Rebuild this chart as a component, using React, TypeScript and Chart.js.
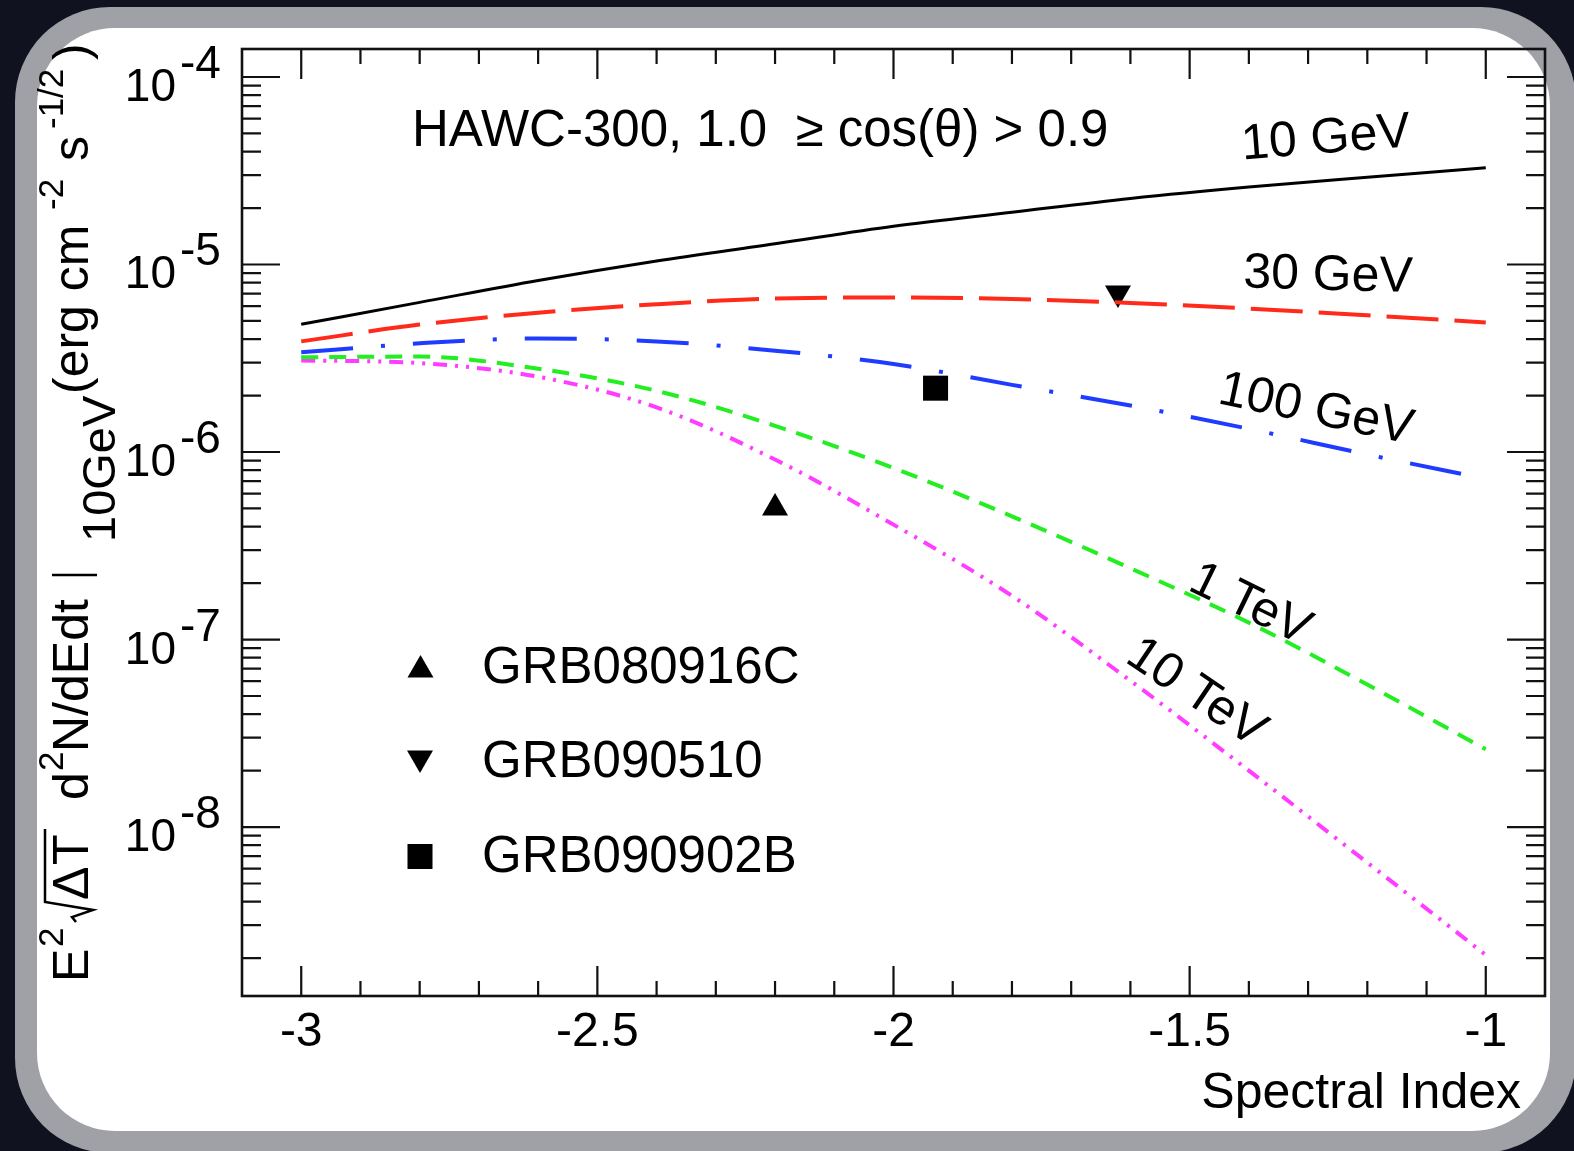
import React, { useEffect, useRef } from 'react';
import { Chart, registerables } from 'chart.js';

Chart.register(...registerables);

// ---- data ----
const spectralIndex = [-3.0, -2.8, -2.6, -2.4, -2.2, -2.0, -1.8, -1.6, -1.4, -1.2, -1.0];
const flux10GeV = [4.8e-6, 6.28e-6, 8.22e-6, 1.045e-5, 1.29e-5, 1.6e-5, 1.9e-5, 2.25e-5, 2.59e-5, 2.92e-5, 3.28e-5];
const flux30GeV = [3.89e-6, 4.78e-6, 5.53e-6, 6.14e-6, 6.59e-6, 6.67e-6, 6.55e-6, 6.24e-6, 5.82e-6, 5.36e-6, 4.91e-6];
const flux100GeV = [3.4e-6, 3.8e-6, 4.03e-6, 3.89e-6, 3.47e-6, 2.95e-6, 2.28e-6, 1.77e-6, 1.33e-6, 9.7e-7, 7.2e-7];
const flux1TeV = [3.2e-6, 3.23e-6, 2.78e-6, 2.12e-6, 1.38e-6, 8.22e-7, 4.54e-7, 2.4e-7, 1.23e-7, 5.75e-8, 2.6e-8];
const flux10TeV = [3.08e-6, 2.98e-6, 2.52e-6, 1.73e-6, 9.12e-7, 4.1e-7, 1.71e-7, 6.03e-8, 2.0e-8, 6.46e-9, 2.08e-9];

const grbNames = ['GRB080916C', 'GRB090510', 'GRB090902B'];
const grbIndex = [-2.2, -1.621, -1.929];
const grbFlux = [5.03e-7, 7.05e-6, 2.19e-6];

const curveLabels = ['10 GeV', '30 GeV', '100 GeV', '1 TeV', '10 TeV'];
const xMajorTicks = [-3, -2.5, -2, -1.5, -1];
const yDecades = [-8, -7, -6, -5, -4];
const xRange = [-3.1, -0.9];
const yRange = [1.256e-9, 1.41e-4];

const FONT = '"Liberation Sans", Arial, Helvetica, sans-serif';

function pts(ys: number[]) {
  return spectralIndex.map((x, i) => ({ x, y: ys[i] }));
}

function drawTri(ctx: CanvasRenderingContext2D, x: number, y: number, r: number, down: boolean) {
  ctx.beginPath();
  let a = down ? Math.PI : 0;
  for (let i = 0; i < 3; i++) {
    const px = x + Math.sin(a) * r;
    const py = y - Math.cos(a) * r;
    if (i === 0) ctx.moveTo(px, py);
    else ctx.lineTo(px, py);
    a += (2 * Math.PI) / 3;
  }
  ctx.closePath();
  ctx.fill();
}

const overlay = {
  id: 'overlay',
  afterDraw(chart: any) {
    const ctx: CanvasRenderingContext2D = chart.ctx;
    const { left, right, top, bottom } = chart.chartArea;
    const xs = chart.scales.x;
    const ys = chart.scales.y;
    ctx.save();

    // frame
    ctx.strokeStyle = '#111';
    ctx.lineWidth = 2.6;
    ctx.strokeRect(left, top, right - left, bottom - top);

    // ticks
    ctx.lineWidth = 2.2;
    ctx.beginPath();
    for (let i = -31; i <= -9; i++) {
      const v = i / 10;
      if (v <= xs.min + 1e-9 || v >= xs.max - 1e-9) continue;
      const px = xs.getPixelForValue(v);
      const major = xMajorTicks.some((m) => Math.abs(m - v) < 1e-9);
      const len = major ? 30 : 15;
      ctx.moveTo(px, bottom);
      ctx.lineTo(px, bottom - len);
      ctx.moveTo(px, top);
      ctx.lineTo(px, top + len);
    }
    for (let d = -10; d <= -3; d++) {
      for (let k = 1; k <= 9; k++) {
        const v = k * Math.pow(10, d);
        if (v <= ys.min || v >= ys.max) continue;
        const py = ys.getPixelForValue(v);
        const len = k === 1 ? 38 : 19;
        ctx.moveTo(left, py);
        ctx.lineTo(left + len, py);
        ctx.moveTo(right, py);
        ctx.lineTo(right - len, py);
      }
    }
    ctx.stroke();

    // y tick labels
    ctx.fillStyle = '#000';
    ctx.font = `46px ${FONT}`;
    ctx.textBaseline = 'alphabetic';
    for (const d of yDecades) {
      const py = ys.getPixelForValue(Math.pow(10, d));
      ctx.textAlign = 'right';
      ctx.fillText('10', 176, py + 24);
      ctx.textAlign = 'left';
      ctx.fillText(String(d), 180, py + 1);
    }

    // x title
    ctx.font = `50px ${FONT}`;
    ctx.textAlign = 'right';
    ctx.fillText('Spectral Index', 1521, 1108);

    // header text
    ctx.font = `51px ${FONT}`;
    ctx.textAlign = 'left';
    ctx.fillText('HAWC-300, 1.0  \u2265 cos(\u03B8) > 0.9', 412, 146);

    // curve labels
    const lab = (t: string, cx: number, cy: number, deg: number) => {
      ctx.save();
      ctx.translate(cx, cy);
      ctx.rotate((deg * Math.PI) / 180);
      ctx.textAlign = 'center';
      ctx.textBaseline = 'middle';
      ctx.font = `50px ${FONT}`;
      ctx.fillText(t, 0, 0);
      ctx.restore();
    };
    lab(curveLabels[0], 1326, 139, -4.5);
    lab(curveLabels[1], 1328, 276, 1.5);
    lab(curveLabels[2], 1316, 410, 12);
    lab(curveLabels[3], 1250, 605, 26);
    lab(curveLabels[4], 1196, 693, 34);

    // legend
    ctx.fillStyle = '#000';
    drawTri(ctx, 420.5, 670, 15, false);
    drawTri(ctx, 420, 758, 15, true);
    ctx.fillRect(407.5, 844, 25, 25);
    ctx.font = `51px ${FONT}`;
    ctx.textAlign = 'left';
    ctx.textBaseline = 'alphabetic';
    ctx.fillText(grbNames[0], 482, 683);
    ctx.fillText(grbNames[1], 482, 777);
    ctx.fillText(grbNames[2], 482, 872);

    // y title (rotated, built from pieces)
    ctx.save();
    ctx.translate(88, 982);
    ctx.rotate(-Math.PI / 2);
    ctx.textAlign = 'left';
    ctx.textBaseline = 'alphabetic';
    const piece = (t: string, u: number, v: number, size: number) => {
      ctx.font = `${size}px ${FONT}`;
      ctx.fillText(t, u, v);
    };
    piece('E', 0, 0, 50);
    piece('2', 35, -25, 35);
    ctx.lineWidth = 2.5;
    ctx.strokeStyle = '#000';
    ctx.beginPath();
    ctx.moveTo(60, -12);
    ctx.lineTo(65, -16);
    ctx.lineTo(72, 5);
    ctx.lineTo(80, -43);
    ctx.lineTo(153, -43);
    ctx.stroke();
    piece('\u0394', 82, 0, 50);
    piece('T', 117, 0, 50);
    piece('d', 182, 0, 50);
    piece('2', 211, -25, 35);
    piece('N/dEdt', 230, 0, 50);
    ctx.beginPath();
    ctx.moveTo(407, -36);
    ctx.lineTo(407, 9);
    ctx.stroke();
    piece('10GeV', 440, 27, 47);
    piece('(erg cm', 588, 0, 50);
    piece('-2', 772, -25, 35);
    piece('s', 821, 0, 50);
    piece('-1/2', 853, -25, 35);
    piece(')', 922, 0, 50);
    ctx.restore();

    ctx.restore();
  },
};

export default function App() {
  const ref = useRef<HTMLCanvasElement>(null);
  useEffect(() => {
    const canvas = ref.current!;
    const lineDs = (label: string, ys: number[], color: string, dash: number[], width: number) => ({
      label,
      data: pts(ys),
      borderColor: color,
      backgroundColor: color,
      borderWidth: width,
      borderDash: dash,
      pointRadius: 0,
      fill: false,
      cubicInterpolationMode: 'monotone' as const,
    });
    const pointDs = (i: number, style: string, radius: number, rotation: number) => ({
      label: grbNames[i],
      data: [{ x: grbIndex[i], y: grbFlux[i] }],
      showLine: false,
      pointStyle: style,
      pointRadius: radius,
      pointRotation: rotation,
      pointBackgroundColor: '#000',
      pointBorderColor: '#000',
      pointBorderWidth: 0,
    });
    const chart = new Chart(canvas, {
      type: 'line',
      data: {
        datasets: [
          lineDs(curveLabels[0], flux10GeV, '#000000', [], 3),
          lineDs(curveLabels[1], flux30GeV, '#ff2a1a', [52, 16], 4),
          lineDs(curveLabels[2], flux100GeV, '#1f3bff', [52, 28, 4, 28], 4),
          lineDs(curveLabels[3], flux1TeV, '#22ee22', [17, 11], 4),
          lineDs(curveLabels[4], flux10TeV, '#ff3cff', [14, 8, 3, 8, 3, 8], 4),
          pointDs(0, 'triangle', 15, 0),
          pointDs(1, 'triangle', 15, 180),
          pointDs(2, 'rect', 17.7, 0),
        ] as any,
      },
      options: {
        responsive: false,
        animation: false,
        devicePixelRatio: 1,
        layout: { padding: { left: 242, top: 49, right: 29, bottom: 0 } },
        plugins: { legend: { display: false }, tooltip: { enabled: false } },
        scales: {
          x: {
            type: 'linear',
            min: xRange[0],
            max: xRange[1],
            grid: { display: false, drawTicks: false },
            border: { display: false },
            ticks: {
              font: { family: FONT, size: 48 },
              color: '#000',
              padding: 8,
              maxRotation: 0,
              minRotation: 0,
              autoSkip: false,
              callback: (v: any) => String(v),
            },
            afterBuildTicks: (s: any) => {
              s.ticks = xMajorTicks.map((v) => ({ value: v }));
            },
            afterFit: (s: any) => {
              s.height = 155;
            },
          },
          y: {
            type: 'logarithmic',
            min: yRange[0],
            max: yRange[1],
            display: false,
          },
        },
      } as any,
      plugins: [overlay],
    });
    return () => chart.destroy();
  }, []);

  return (
    <div style={{ position: 'fixed', left: 0, top: 0, width: 1574, height: 1151, background: '#10121f', overflow: 'hidden' }}>
      <div style={{ position: 'absolute', left: 15, top: 7, width: 1561, height: 1146, background: '#a0a1a6', borderRadius: 95 }} />
      <div style={{ position: 'absolute', left: 37, top: 28, width: 1513, height: 1103, background: '#ffffff', borderRadius: 78 }} />
      <canvas ref={ref} width={1574} height={1151} style={{ position: 'absolute', left: 0, top: 0, width: 1574, height: 1151 }} />
    </div>
  );
}
